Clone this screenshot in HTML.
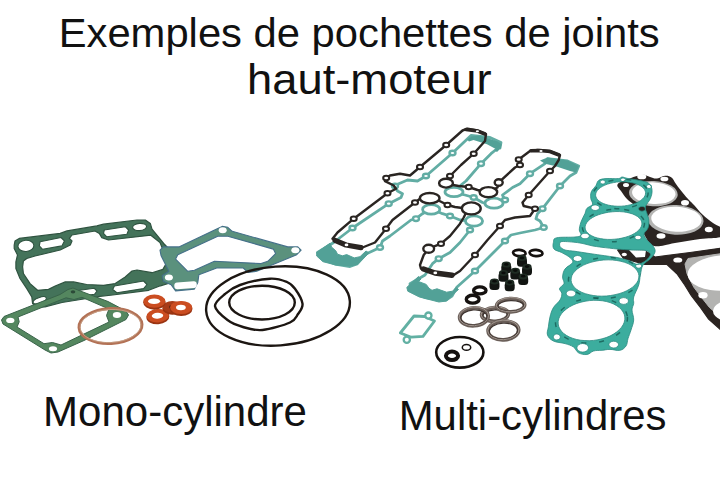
<!DOCTYPE html>
<html><head><meta charset="utf-8"><title>Exemples de pochettes de joints haut-moteur</title>
<style>
html,body{margin:0;padding:0;background:#fff;}
body{width:720px;height:490px;overflow:hidden;}
svg{display:block;font-family:"Liberation Sans",Arial,sans-serif;fill:#111;}
</style></head><body>
<svg width="720" height="490" viewBox="0 0 720 490">
<rect width="720" height="490" fill="#fff"/>
<text x="58.7" y="47.3" font-size="41.4" textLength="601" lengthAdjust="spacingAndGlyphs">Exemples de pochettes de joints</text>
<text x="247" y="93.6" font-size="42.4" textLength="244.5" lengthAdjust="spacingAndGlyphs">haut-moteur</text>
<text x="43" y="425.8" font-size="42.2" textLength="264" lengthAdjust="spacingAndGlyphs">Mono-cylindre</text>
<text x="398.7" y="429.6" font-size="42" textLength="267.7" lengthAdjust="spacingAndGlyphs">Multi-cylindres</text>
<path d="M14.2,245.0 L15.0,241.0 L19.2,238.4 L60.2,233.4 L67.0,230.9 L96.8,225.9 L103.5,224.2 L137.0,220.0 L145.3,220.0 L150.3,223.4 L152.0,229.2 L163.7,243.5 L168.0,248.0 L172.0,262.0 L174.0,276.0 L170.0,283.0 L160.4,285.8 L148.7,290.3 L112.7,295.0 L100.0,296.3 L83.7,299.0 L62.0,302.5 L45.0,306.8 L36.8,307.0 L32.6,303.6 L31.8,297.0 L26.8,288.6 L20.0,278.5 L15.9,268.5 L15.9,261.8 L17.5,255.0 L14.2,248.4Z M23.4,261.0 L26.8,258.5 L35.0,256.0 L60.2,250.0 L70.3,245.0 L72.0,240.9 L69.4,238.4 L72.0,235.0 L95.0,231.0 L99.3,233.4 L101.8,237.6 L108.5,240.0 L150.8,235.2 L160.0,242.5 L164.0,252.5 L166.2,263.5 L162.9,269.4 L152.0,272.7 L137.0,270.0 L132.0,271.0 L125.2,277.0 L115.2,283.6 L103.5,285.3 L86.7,284.5 L73.6,281.9 L65.3,281.9 L55.2,286.0 L48.5,289.4 L37.6,290.3 L30.1,283.6 L23.4,273.5 L22.6,266.8Z" fill="#44735a" fill-rule="evenodd" stroke="#2f5340" stroke-width="1.2" stroke-linejoin="round"/>
<path d="M40.1,241.7 L61.0,237.5 L64.4,240.9 L61.9,245.9 L42.6,249.3 L39.3,245.9Z" fill="#fff" stroke="#2f5340" stroke-width="1.1" stroke-linejoin="round"/>
<path d="M104.3,230.0 L125.2,226.7 L128.6,230.0 L126.9,234.2 L106.8,236.8 L103.5,233.4Z" fill="#fff" stroke="#2f5340" stroke-width="1.1" stroke-linejoin="round"/>
<path d="M114.4,286.0 L143.6,281.0 L147.0,284.5 L143.6,288.6 L116.9,292.8 L112.7,289.5Z" fill="#fff" stroke="#2f5340" stroke-width="1.1" stroke-linejoin="round"/>
<path d="M66.0,292.3 L94.0,288.2 L97.0,291.0 L94.5,294.3 L68.0,298.0 L64.5,295.0Z" fill="#fff" stroke="#2f5340" stroke-width="1.1" stroke-linejoin="round"/>
<ellipse cx="25.9" cy="245.9" rx="8" ry="5.6" fill="#fff" transform="rotate(-5 25.9 245.9)" stroke="#2f5340" stroke-width="1.1"/>
<ellipse cx="139.6" cy="227" rx="7" ry="3.6" fill="#fff" transform="rotate(-5 139.6 227)" stroke="#2f5340" stroke-width="1.1"/>
<ellipse cx="168.7" cy="278.6" rx="6.3" ry="3.7" fill="#fff" transform="rotate(-5 168.7 278.6)" stroke="#2f5340" stroke-width="1.1"/>
<ellipse cx="39.7" cy="300.3" rx="7" ry="2.8" fill="#fff" transform="rotate(-20 39.7 300.3)" stroke="#2f5340" stroke-width="1.1"/>
<path d="M1.5,320.0 L4.0,316.5 L60.0,294.5 L68.0,289.5 L73.0,288.0 L79.0,290.5 L108.0,301.5 L126.0,311.0 L128.5,315.0 L126.0,319.5 L84.0,340.5 L58.0,352.0 L51.0,353.0 L45.0,350.0 L3.0,324.0Z M18.0,317.0 L66.0,297.8 L74.0,299.5 L82.0,297.3 L109.0,309.0 L106.5,315.5 L109.0,322.0 L61.0,345.0 L52.5,342.5 L44.0,343.7 L17.0,327.0 L19.2,321.8Z" fill="#54875f" fill-rule="evenodd" stroke="#39634a" stroke-width="1" stroke-linejoin="round"/><ellipse cx="10.3" cy="320.4" rx="4.1" ry="2.7" fill="#fff"/><ellipse cx="53" cy="348.8" rx="4.1" ry="2.5" fill="#fff"/><ellipse cx="117" cy="315" rx="4.2" ry="3" fill="#fff"/><ellipse cx="73" cy="291.8" rx="2.3" ry="1.6" fill="#2c4a38"/>
<path d="M160.0,250.2 L163.3,246.9 L178.9,246.9 L216.7,229.1 L222.2,226.4 L227.8,227.3 L232.2,231.3 L287.8,246.9 L297.8,246.9 L301.1,250.2 L296.7,254.7 L256.7,271.3 L247.8,272.4 L243.3,268.0 L216.7,268.0 L198.9,274.7 L197.8,282.4 L194.4,289.1 L175.6,290.9 L171.1,284.7 L163.3,281.3 L162.2,275.8 L168.9,271.3 L161.1,255.8Z M175.6,259.1 L177.8,254.7 L217.8,236.2 L227.8,236.2 L273.3,249.1 L275.6,253.6 L267.8,261.3 L261.1,263.6 L214.4,261.3 L194.4,270.2 L187.8,271.3Z" fill="#5b917d" fill-rule="evenodd" stroke="#45708a" stroke-width="1.1" stroke-linejoin="round"/>
<rect x="174.3" y="281.8" width="22.5" height="6.800000000000011" rx="3" fill="#fff" transform="rotate(-4 185.55 285.20000000000005)" />
<ellipse cx="168.9" cy="277.6" rx="4" ry="3" fill="#fff"/><ellipse cx="222.7" cy="230.2" rx="4" ry="3" fill="#fff"/><ellipse cx="295.3" cy="250.3" rx="4" ry="3" fill="#fff"/>
<g fill="none" stroke="#1c1612" stroke-width="2.4">
<ellipse cx="278" cy="306" rx="72" ry="39.5" transform="rotate(-4 278 306)"/>
<path d="M215.0,306.2 C214.6,301.9 220.8,297.5 225.0,294.0 C229.2,290.5 232.5,287.6 240.0,285.0 C247.5,282.4 262.2,279.2 270.0,278.7 C277.8,278.2 282.8,280.3 287.0,282.0 C291.2,283.7 292.4,285.1 295.0,288.7 C297.6,292.3 302.0,299.5 302.5,303.7 C303.0,307.9 300.1,310.9 298.0,314.0 C295.9,317.1 295.9,319.8 290.0,322.5 C284.1,325.2 270.3,329.2 262.5,330.0 C254.7,330.8 248.8,328.7 243.0,327.0 C237.2,325.3 232.2,323.5 227.5,320.0 C222.8,316.5 215.4,310.5 215.0,306.2Z"/>
<ellipse cx="262" cy="302.6" rx="32.8" ry="16.9"/>
</g>
<ellipse cx="110.5" cy="326" rx="31.5" ry="17.5" fill="none" stroke="#b37256" stroke-width="3" transform="rotate(-3 110.5 326)"/>
<ellipse cx="110.5" cy="326" rx="30.5" ry="16.5" fill="none" stroke="#c9a58c" stroke-width="0.8" transform="rotate(-3 110.5 326)"/>
<g transform="rotate(-4 157.8 316)"><ellipse cx="157.8" cy="317.0" rx="11.5" ry="7.3" fill="#9a3412"/><ellipse cx="157.8" cy="315.7" rx="11.2" ry="6.7" fill="#cb4d21"/><ellipse cx="157.5" cy="315.7" rx="5.75" ry="2.92" fill="#fff"/></g>
<g transform="rotate(0 172.4 307.2)"><ellipse cx="172.4" cy="308.2" rx="10" ry="6.5" fill="#9a3412"/><ellipse cx="172.4" cy="306.9" rx="9.7" ry="5.9" fill="#a83c19"/><ellipse cx="172.1" cy="306.9" rx="3.0" ry="1.95" fill="#5a2412"/></g>
<g transform="rotate(0 181.2 307.8)"><ellipse cx="181.2" cy="308.8" rx="11.3" ry="7.2" fill="#9a3412"/><ellipse cx="181.2" cy="307.5" rx="11.0" ry="6.6000000000000005" fill="#cb4d21"/><ellipse cx="180.89999999999998" cy="307.5" rx="4.859" ry="2.736" fill="#fff"/></g>
<g transform="rotate(0 154.4 301.5)"><ellipse cx="154.4" cy="302.5" rx="11.2" ry="7.2" fill="#9a3412"/><ellipse cx="154.4" cy="301.2" rx="10.899999999999999" ry="6.6000000000000005" fill="#cb4d21"/><ellipse cx="154.1" cy="301.2" rx="6.048" ry="2.736" fill="#fff"/></g>
<path d="M617.5,184.5 C618.5,182.3 622.3,181.6 626.0,180.0 C629.7,178.4 632.5,177.3 636.0,176.3 C639.5,175.3 640.7,174.7 643.5,174.8 C646.3,174.9 647.3,176.3 650.0,177.0 C652.7,177.7 654.0,178.8 657.0,178.5 C660.0,178.2 662.1,175.9 665.0,175.7 C667.9,175.5 669.3,175.8 671.5,177.5 C673.7,179.2 673.8,181.0 676.0,184.0 C678.2,187.0 680.0,189.4 682.5,192.5 C685.0,195.6 686.2,197.0 688.5,199.5 C690.8,202.0 691.2,202.0 694.0,205.0 C696.8,208.0 698.7,210.9 702.5,214.5 C706.3,218.1 709.1,220.2 713.0,223.0 C716.9,225.8 720.2,225.8 722.0,228.5 C723.8,231.2 726.4,234.4 722.0,236.5 C717.6,238.6 709.4,237.7 700.0,239.0 C690.6,240.3 683.6,241.5 675.0,243.0 C666.4,244.5 662.0,246.3 657.0,246.3 C652.0,246.3 652.4,245.1 650.0,243.0 C647.6,240.9 646.6,239.0 645.0,236.0 C643.4,233.0 642.4,231.2 642.0,228.0 C641.6,224.8 643.4,223.2 643.0,220.0 C642.6,216.8 641.8,215.0 640.0,212.0 C638.2,209.0 636.6,207.6 634.0,205.0 C631.4,202.4 629.6,201.8 627.0,199.0 C624.4,196.2 622.9,193.9 621.0,191.0 C619.1,188.1 616.5,186.7 617.5,184.5Z" fill="#2b2421"/>
<ellipse cx="653.4" cy="193.6" rx="24.4" ry="12.6" fill="#b4b4b2" transform="rotate(3 653.4 193.6)" />
<ellipse cx="653.8" cy="193.2" rx="21.8" ry="10.8" fill="#fff" transform="rotate(3 653.8 193.2)" />
<ellipse cx="675.6" cy="219.9" rx="28" ry="14.8" fill="#b4b4b2" transform="rotate(3 675.6 219.9)" />
<ellipse cx="676.4" cy="219.2" rx="25.2" ry="12.5" fill="#fff" transform="rotate(3 676.4 219.2)" />
<ellipse cx="641.8" cy="176.7" rx="4.5" ry="2.6" fill="#fff" transform="rotate(0 641.8 176.7)" />
<ellipse cx="664.4" cy="179" rx="4" ry="2.3" fill="#fff" transform="rotate(0 664.4 179)" />
<ellipse cx="685" cy="202.7" rx="4" ry="2.8" fill="#fff" transform="rotate(0 685 202.7)" />
<ellipse cx="708.8" cy="229.5" rx="4" ry="2.8" fill="#fff" transform="rotate(0 708.8 229.5)" />
<ellipse cx="661" cy="236" rx="4.5" ry="2.8" fill="#fff" transform="rotate(0 661 236)" />
<ellipse cx="626" cy="185" rx="3" ry="2" fill="#fff" transform="rotate(0 626 185)" />
<path d="M617.6,250.0 L625.0,247.3 L640.0,247.5 L655.0,257.0 L690.0,252.5 L722.0,248.0 L722.0,331.0 L708.3,318.7 L700.4,307.4 L691.5,296.0 L684.7,285.0 L676.9,273.7 L667.0,264.5 L645.0,264.3 L623.4,258.5Z" fill="#2b2421" stroke="#2b2421" stroke-width="1.2" stroke-linejoin="round"/>
<path d="M688.0,258.5 L722.0,253.5 L722.0,318.5 L709.4,307.4 L700.4,296.0 L693.7,287.0 L687.0,273.7 L685.0,264.0Z" fill="#b3b3b1" stroke="#b3b3b1" stroke-width="1" stroke-linejoin="round"/>
<ellipse cx="723" cy="273" rx="35.5" ry="17.6" fill="#fff" transform="rotate(-3 723 273)" />
<ellipse cx="742" cy="311" rx="29" ry="13" fill="#fff" transform="rotate(0 742 311)" />
<path d="M629.0,250.0 L646.0,250.3 L645.0,257.0 L636.0,257.5Z" fill="#fff"/>
<ellipse cx="677.8" cy="260" rx="4.5" ry="2.6" fill="#fff" transform="rotate(0 677.8 260)" />
<ellipse cx="703" cy="295.3" rx="4.6" ry="3.3" fill="#fff" transform="rotate(0 703 295.3)" />
<ellipse cx="624.3" cy="254.5" rx="2.6" ry="1.8" fill="#fff" transform="rotate(0 624.3 254.5)" />
<path d="M591.3,191.8 C592.3,189.4 594.7,187.6 596.0,185.5 C597.3,183.4 596.8,181.8 598.6,180.5 C600.4,179.2 602.3,178.9 606.0,178.6 C609.7,178.3 615.7,178.9 618.6,178.6 C621.5,178.3 620.3,177.0 622.0,177.0 C623.7,177.0 624.7,177.9 628.0,178.5 C631.3,179.1 636.2,179.6 640.0,180.5 C643.8,181.4 646.6,181.7 648.8,183.4 C651.0,185.1 651.7,187.2 652.0,190.0 C652.3,192.8 651.6,195.4 650.4,198.5 C649.2,201.6 646.0,204.1 645.4,206.8 C644.8,209.6 646.4,211.1 647.0,213.5 C647.6,215.9 648.6,217.3 648.8,220.0 C649.0,222.7 648.9,225.4 648.0,228.0 C647.1,230.6 644.2,231.8 644.0,234.0 C643.8,236.2 645.4,237.8 647.0,240.0 C648.6,242.2 651.5,243.8 653.0,246.0 C654.5,248.2 655.5,249.6 655.0,252.0 C654.5,254.4 652.2,256.6 650.0,259.0 C647.8,261.4 644.8,262.1 643.0,265.0 C641.2,267.9 641.2,271.3 640.4,275.0 C639.6,278.7 639.9,281.0 638.7,285.0 C637.5,289.0 634.6,293.6 633.7,297.0 C632.8,300.4 634.0,301.0 633.7,303.4 C633.4,305.8 632.0,307.0 632.0,310.0 C632.0,313.0 633.9,316.3 633.7,320.0 C633.5,323.7 632.0,326.6 631.0,330.0 C630.0,333.4 628.9,335.7 628.0,338.6 C627.1,341.5 627.5,343.9 626.0,346.0 C624.5,348.1 622.9,349.7 620.0,350.3 C617.1,350.9 613.3,349.4 610.0,349.4 C606.7,349.4 605.0,350.0 602.0,350.3 C599.0,350.6 596.4,350.2 593.6,351.0 C590.8,351.8 589.7,354.2 586.9,354.5 C584.1,354.8 581.0,354.2 578.5,352.8 C576.0,351.4 576.0,348.7 573.5,347.0 C571.0,345.3 568.7,344.7 565.0,343.6 C561.3,342.5 556.6,342.6 553.4,341.0 C550.2,339.4 548.4,337.6 547.5,335.0 C546.6,332.4 547.9,330.1 548.4,326.8 C548.9,323.5 549.1,320.3 550.0,316.8 C550.9,313.3 551.6,310.7 553.4,307.6 C555.2,304.5 558.5,302.6 560.0,300.0 C561.5,297.4 561.9,295.5 561.8,293.4 C561.7,291.3 559.1,290.4 559.5,288.6 C559.9,286.8 563.4,285.6 564.0,283.5 C564.6,281.4 562.4,279.7 562.6,277.0 C562.8,274.3 563.2,271.6 565.0,269.0 C566.8,266.4 571.7,264.7 572.6,262.6 C573.5,260.5 572.0,259.4 570.0,257.6 C568.0,255.8 564.7,254.2 561.8,252.6 C558.9,251.0 555.5,250.9 554.0,249.0 C552.5,247.1 552.9,244.6 553.4,242.5 C553.9,240.4 552.7,238.8 556.7,237.8 C560.7,236.8 570.5,237.5 575.0,237.0 C579.5,236.5 580.2,236.3 581.0,235.0 C581.8,233.7 579.3,232.4 579.3,230.0 C579.3,227.6 580.0,225.0 581.0,222.0 C582.0,219.0 583.9,216.0 585.0,213.5 C586.1,211.0 585.4,210.2 586.8,208.5 C588.2,206.8 591.8,206.1 592.5,204.3 C593.2,202.5 591.0,200.8 590.8,198.5 C590.6,196.2 590.3,194.2 591.3,191.8Z M645.6,192.7 C645.6,193.7 645.4,194.8 644.9,195.9 C644.4,196.9 643.6,198.0 642.5,199.0 C641.5,199.9 640.2,200.9 638.7,201.7 C637.2,202.5 635.5,203.3 633.6,203.9 C631.8,204.5 629.7,205.0 627.7,205.4 C625.6,205.8 623.4,206.1 621.2,206.2 C619.1,206.3 616.8,206.3 614.8,206.1 C612.7,205.9 610.6,205.6 608.7,205.2 C606.8,204.8 605.0,204.2 603.4,203.5 C601.8,202.9 600.4,202.1 599.3,201.2 C598.2,200.4 597.3,199.4 596.7,198.4 C596.0,197.4 595.7,196.4 595.6,195.3 C595.6,194.3 595.8,193.2 596.3,192.1 C596.8,191.1 597.6,190.0 598.7,189.0 C599.7,188.1 601.0,187.1 602.5,186.3 C604.0,185.5 605.7,184.7 607.6,184.1 C609.4,183.5 611.5,183.0 613.5,182.6 C615.6,182.2 617.8,181.9 620.0,181.8 C622.1,181.7 624.4,181.7 626.4,181.9 C628.5,182.1 630.6,182.4 632.5,182.8 C634.4,183.2 636.2,183.8 637.8,184.5 C639.4,185.1 640.8,185.9 641.9,186.8 C643.0,187.6 643.9,188.6 644.5,189.6 C645.2,190.6 645.5,191.6 645.6,192.7Z M641.9,223.0 C642.0,224.2 641.8,225.5 641.2,226.7 C640.7,227.9 639.8,229.1 638.7,230.2 C637.6,231.4 636.1,232.5 634.4,233.5 C632.8,234.5 630.8,235.4 628.7,236.2 C626.7,236.9 624.3,237.6 622.0,238.1 C619.7,238.7 617.2,239.0 614.7,239.2 C612.3,239.5 609.7,239.5 607.3,239.4 C604.9,239.3 602.5,239.1 600.3,238.6 C598.2,238.2 596.1,237.7 594.3,237.0 C592.5,236.3 590.8,235.4 589.5,234.5 C588.2,233.6 587.1,232.5 586.4,231.5 C585.7,230.4 585.2,229.2 585.1,228.0 C585.0,226.8 585.2,225.5 585.8,224.3 C586.3,223.1 587.2,221.9 588.3,220.8 C589.4,219.6 590.9,218.5 592.6,217.5 C594.2,216.5 596.2,215.6 598.3,214.8 C600.3,214.1 602.7,213.4 605.0,212.9 C607.3,212.3 609.8,212.0 612.3,211.8 C614.7,211.5 617.3,211.5 619.7,211.6 C622.1,211.7 624.5,211.9 626.7,212.4 C628.8,212.8 630.9,213.3 632.7,214.0 C634.5,214.7 636.2,215.6 637.5,216.5 C638.8,217.4 639.9,218.5 640.6,219.5 C641.3,220.6 641.8,221.8 641.9,223.0Z M638.9,275.6 C639.0,277.2 638.7,278.8 638.1,280.4 C637.4,281.9 636.4,283.5 635.0,284.9 C633.6,286.4 631.9,287.8 629.9,289.0 C627.9,290.3 625.5,291.4 623.0,292.4 C620.6,293.3 617.8,294.1 615.0,294.7 C612.2,295.3 609.2,295.8 606.3,296.0 C603.3,296.2 600.3,296.2 597.4,296.0 C594.6,295.8 591.7,295.3 589.1,294.7 C586.5,294.1 584.1,293.3 581.9,292.4 C579.8,291.4 577.8,290.3 576.3,289.0 C574.7,287.8 573.4,286.4 572.6,284.9 C571.7,283.5 571.2,281.9 571.1,280.4 C571.0,278.8 571.3,277.2 571.9,275.6 C572.6,274.1 573.6,272.5 575.0,271.1 C576.4,269.6 578.1,268.2 580.1,267.0 C582.1,265.7 584.5,264.6 587.0,263.6 C589.4,262.7 592.2,261.9 595.0,261.3 C597.8,260.7 600.8,260.2 603.7,260.0 C606.7,259.8 609.7,259.8 612.6,260.0 C615.4,260.2 618.3,260.7 620.9,261.3 C623.5,261.9 625.9,262.7 628.1,263.6 C630.2,264.6 632.2,265.7 633.7,267.0 C635.3,268.2 636.6,269.6 637.4,271.1 C638.3,272.5 638.8,274.1 638.9,275.6Z M624.8,317.0 C625.0,318.7 624.8,320.5 624.2,322.3 C623.7,324.0 622.7,325.8 621.4,327.4 C620.1,329.0 618.4,330.7 616.5,332.1 C614.6,333.5 612.4,334.9 610.0,336.0 C607.6,337.1 604.9,338.1 602.1,338.8 C599.4,339.5 596.5,340.1 593.6,340.4 C590.7,340.7 587.7,340.8 584.9,340.6 C582.1,340.5 579.2,340.1 576.7,339.5 C574.1,338.9 571.6,338.0 569.4,337.0 C567.3,336.0 565.3,334.8 563.7,333.5 C562.1,332.1 560.8,330.6 559.9,329.0 C558.9,327.5 558.4,325.7 558.2,324.0 C558.0,322.3 558.2,320.5 558.8,318.7 C559.3,317.0 560.3,315.2 561.6,313.6 C562.9,312.0 564.6,310.3 566.5,308.9 C568.4,307.5 570.6,306.1 573.0,305.0 C575.4,303.9 578.1,302.9 580.9,302.2 C583.6,301.5 586.5,300.9 589.4,300.6 C592.3,300.3 595.3,300.2 598.1,300.4 C600.9,300.5 603.8,300.9 606.3,301.5 C608.9,302.1 611.4,303.0 613.6,304.0 C615.7,305.0 617.7,306.2 619.3,307.5 C620.9,308.9 622.2,310.4 623.1,312.0 C624.1,313.5 624.6,315.3 624.8,317.0Z M561.0,241.7 C563.0,241.1 571.9,242.0 575.0,242.3 C578.1,242.6 581.7,243.3 584.0,243.8 C586.3,244.3 589.6,245.3 592.0,245.8 C594.4,246.3 598.7,246.9 602.0,247.3 C605.3,247.7 613.0,248.6 617.0,249.0 C621.0,249.4 628.1,249.8 632.0,250.0 C635.9,250.2 643.5,249.9 646.0,250.5 C648.5,251.1 650.5,253.2 650.5,254.5 C650.5,255.8 647.7,259.2 646.0,260.5 C644.3,261.8 639.6,264.4 637.5,264.5 C635.4,264.6 632.6,261.9 630.0,261.0 C627.4,260.1 621.9,258.5 618.0,257.7 C614.1,256.9 605.0,255.8 601.0,255.2 C597.0,254.6 591.5,253.8 588.0,253.3 C584.5,252.8 578.1,251.7 575.0,251.3 C571.9,250.9 567.0,250.6 565.0,250.0 C563.0,249.4 560.5,247.6 560.0,246.5 C559.5,245.4 559.0,242.3 561.0,241.7Z M605.3,182.0 C605.3,182.5 605.0,183.1 604.5,183.4 C604.1,183.7 603.3,184.0 602.7,184.0 C602.1,184.0 601.3,183.7 600.9,183.4 C600.4,183.1 600.1,182.5 600.1,182.0 C600.1,181.5 600.4,180.9 600.9,180.6 C601.3,180.3 602.1,180.0 602.7,180.0 C603.3,180.0 604.1,180.3 604.5,180.6 C605.0,180.9 605.3,181.5 605.3,182.0Z M625.4,179.8 C625.4,180.2 625.1,180.8 624.7,181.1 C624.3,181.4 623.6,181.6 623.0,181.6 C622.4,181.6 621.7,181.4 621.3,181.1 C620.9,180.8 620.6,180.2 620.6,179.8 C620.6,179.4 620.9,178.8 621.3,178.5 C621.7,178.2 622.4,178.0 623.0,178.0 C623.6,178.0 624.3,178.2 624.7,178.5 C625.1,178.8 625.4,179.4 625.4,179.8Z M651.5,186.5 C651.5,187.0 651.2,187.6 650.8,187.9 C650.4,188.2 649.6,188.5 649.0,188.5 C648.4,188.5 647.6,188.2 647.2,187.9 C646.8,187.6 646.5,187.0 646.5,186.5 C646.5,186.0 646.8,185.4 647.2,185.1 C647.6,184.8 648.4,184.5 649.0,184.5 C649.6,184.5 650.4,184.8 650.8,185.1 C651.2,185.4 651.5,186.0 651.5,186.5Z M599.4,207.7 C599.4,208.4 598.9,209.2 598.2,209.7 C597.5,210.1 596.2,210.5 595.2,210.5 C594.2,210.5 592.9,210.1 592.2,209.7 C591.5,209.2 591.0,208.4 591.0,207.7 C591.0,207.0 591.5,206.2 592.2,205.7 C592.9,205.3 594.2,204.9 595.2,204.9 C596.2,204.9 597.5,205.3 598.2,205.7 C598.9,206.2 599.4,207.0 599.4,207.7Z M645.4,208.8 C645.4,209.4 645.0,210.1 644.4,210.5 C643.8,210.9 642.8,211.2 642.0,211.2 C641.2,211.2 640.2,210.9 639.6,210.5 C639.0,210.1 638.6,209.4 638.6,208.8 C638.6,208.2 639.0,207.5 639.6,207.1 C640.2,206.7 641.2,206.4 642.0,206.4 C642.8,206.4 643.8,206.7 644.4,207.1 C645.0,207.5 645.4,208.2 645.4,208.8Z M589.4,236.0 C589.4,236.7 588.8,237.5 588.1,238.0 C587.4,238.4 586.0,238.8 585.0,238.8 C584.0,238.8 582.6,238.4 581.9,238.0 C581.2,237.5 580.6,236.7 580.6,236.0 C580.6,235.3 581.2,234.5 581.9,234.0 C582.6,233.6 584.0,233.2 585.0,233.2 C586.0,233.2 587.4,233.6 588.1,234.0 C588.8,234.5 589.4,235.3 589.4,236.0Z M641.2,237.5 C641.2,238.0 640.8,238.7 640.3,239.1 C639.7,239.5 638.8,239.8 638.0,239.8 C637.2,239.8 636.3,239.5 635.7,239.1 C635.2,238.7 634.8,238.0 634.8,237.5 C634.8,237.0 635.2,236.3 635.7,235.9 C636.3,235.5 637.2,235.2 638.0,235.2 C638.8,235.2 639.7,235.5 640.3,235.9 C640.8,236.3 641.2,237.0 641.2,237.5Z M582.0,258.5 C582.0,259.2 581.4,260.1 580.7,260.6 C580.0,261.1 578.6,261.5 577.6,261.5 C576.6,261.5 575.2,261.1 574.5,260.6 C573.8,260.1 573.2,259.2 573.2,258.5 C573.2,257.8 573.8,256.9 574.5,256.4 C575.2,255.9 576.6,255.5 577.6,255.5 C578.6,255.5 580.0,255.9 580.7,256.4 C581.4,256.9 582.0,257.8 582.0,258.5Z M641.7,266.0 C641.7,266.5 641.3,267.2 640.8,267.6 C640.3,267.9 639.4,268.2 638.7,268.2 C638.0,268.2 637.1,267.9 636.6,267.6 C636.1,267.2 635.7,266.5 635.7,266.0 C635.7,265.5 636.1,264.8 636.6,264.4 C637.1,264.1 638.0,263.8 638.7,263.8 C639.4,263.8 640.3,264.1 640.8,264.4 C641.3,264.8 641.7,265.5 641.7,266.0Z M575.8,293.5 C575.8,294.3 575.2,295.3 574.4,295.9 C573.6,296.5 572.1,296.9 571.0,296.9 C569.9,296.9 568.4,296.5 567.6,295.9 C566.8,295.3 566.2,294.3 566.2,293.5 C566.2,292.7 566.8,291.7 567.6,291.1 C568.4,290.5 569.9,290.1 571.0,290.1 C572.1,290.1 573.6,290.5 574.4,291.1 C575.2,291.7 575.8,292.7 575.8,293.5Z M628.5,301.0 C628.5,301.8 627.9,302.8 627.1,303.4 C626.3,304.0 624.8,304.4 623.7,304.4 C622.6,304.4 621.1,304.0 620.3,303.4 C619.5,302.8 618.9,301.8 618.9,301.0 C618.9,300.2 619.5,299.2 620.3,298.6 C621.1,298.0 622.6,297.6 623.7,297.6 C624.8,297.6 626.3,298.0 627.1,298.6 C627.9,299.2 628.5,300.2 628.5,301.0Z M560.4,337.0 C560.4,337.7 559.9,338.6 559.3,339.1 C558.7,339.6 557.6,340.0 556.8,340.0 C556.0,340.0 554.9,339.6 554.3,339.1 C553.7,338.6 553.2,337.7 553.2,337.0 C553.2,336.3 553.7,335.4 554.3,334.9 C554.9,334.4 556.0,334.0 556.8,334.0 C557.6,334.0 558.7,334.4 559.3,334.9 C559.9,335.4 560.4,336.3 560.4,337.0Z M588.5,347.8 C588.5,348.8 587.8,350.1 586.8,350.8 C585.8,351.6 584.1,352.1 582.7,352.1 C581.3,352.1 579.6,351.6 578.6,350.8 C577.6,350.1 576.9,348.8 576.9,347.8 C576.9,346.8 577.6,345.5 578.6,344.8 C579.6,344.0 581.3,343.5 582.7,343.5 C584.1,343.5 585.8,344.0 586.8,344.8 C587.8,345.5 588.5,346.8 588.5,347.8Z M618.5,344.6 C618.5,345.4 617.9,346.4 617.1,347.0 C616.3,347.6 614.8,348.0 613.7,348.0 C612.6,348.0 611.1,347.6 610.3,347.0 C609.5,346.4 608.9,345.4 608.9,344.6 C608.9,343.8 609.5,342.8 610.3,342.2 C611.1,341.6 612.6,341.2 613.7,341.2 C614.8,341.2 616.3,341.6 617.1,342.2 C617.9,342.8 618.5,343.8 618.5,344.6Z" fill="#3cad9e" fill-rule="evenodd" stroke="#2a8a80" stroke-width="0.8"/>
<clipPath id="eclip"><path d="M591.3,191.8 C592.3,189.4 594.7,187.6 596.0,185.5 C597.3,183.4 596.8,181.8 598.6,180.5 C600.4,179.2 602.3,178.9 606.0,178.6 C609.7,178.3 615.7,178.9 618.6,178.6 C621.5,178.3 620.3,177.0 622.0,177.0 C623.7,177.0 624.7,177.9 628.0,178.5 C631.3,179.1 636.2,179.6 640.0,180.5 C643.8,181.4 646.6,181.7 648.8,183.4 C651.0,185.1 651.7,187.2 652.0,190.0 C652.3,192.8 651.6,195.4 650.4,198.5 C649.2,201.6 646.0,204.1 645.4,206.8 C644.8,209.6 646.4,211.1 647.0,213.5 C647.6,215.9 648.6,217.3 648.8,220.0 C649.0,222.7 648.9,225.4 648.0,228.0 C647.1,230.6 644.2,231.8 644.0,234.0 C643.8,236.2 645.4,237.8 647.0,240.0 C648.6,242.2 651.5,243.8 653.0,246.0 C654.5,248.2 655.5,249.6 655.0,252.0 C654.5,254.4 652.2,256.6 650.0,259.0 C647.8,261.4 644.8,262.1 643.0,265.0 C641.2,267.9 641.2,271.3 640.4,275.0 C639.6,278.7 639.9,281.0 638.7,285.0 C637.5,289.0 634.6,293.6 633.7,297.0 C632.8,300.4 634.0,301.0 633.7,303.4 C633.4,305.8 632.0,307.0 632.0,310.0 C632.0,313.0 633.9,316.3 633.7,320.0 C633.5,323.7 632.0,326.6 631.0,330.0 C630.0,333.4 628.9,335.7 628.0,338.6 C627.1,341.5 627.5,343.9 626.0,346.0 C624.5,348.1 622.9,349.7 620.0,350.3 C617.1,350.9 613.3,349.4 610.0,349.4 C606.7,349.4 605.0,350.0 602.0,350.3 C599.0,350.6 596.4,350.2 593.6,351.0 C590.8,351.8 589.7,354.2 586.9,354.5 C584.1,354.8 581.0,354.2 578.5,352.8 C576.0,351.4 576.0,348.7 573.5,347.0 C571.0,345.3 568.7,344.7 565.0,343.6 C561.3,342.5 556.6,342.6 553.4,341.0 C550.2,339.4 548.4,337.6 547.5,335.0 C546.6,332.4 547.9,330.1 548.4,326.8 C548.9,323.5 549.1,320.3 550.0,316.8 C550.9,313.3 551.6,310.7 553.4,307.6 C555.2,304.5 558.5,302.6 560.0,300.0 C561.5,297.4 561.9,295.5 561.8,293.4 C561.7,291.3 559.1,290.4 559.5,288.6 C559.9,286.8 563.4,285.6 564.0,283.5 C564.6,281.4 562.4,279.7 562.6,277.0 C562.8,274.3 563.2,271.6 565.0,269.0 C566.8,266.4 571.7,264.7 572.6,262.6 C573.5,260.5 572.0,259.4 570.0,257.6 C568.0,255.8 564.7,254.2 561.8,252.6 C558.9,251.0 555.5,250.9 554.0,249.0 C552.5,247.1 552.9,244.6 553.4,242.5 C553.9,240.4 552.7,238.8 556.7,237.8 C560.7,236.8 570.5,237.5 575.0,237.0 C579.5,236.5 580.2,236.3 581.0,235.0 C581.8,233.7 579.3,232.4 579.3,230.0 C579.3,227.6 580.0,225.0 581.0,222.0 C582.0,219.0 583.9,216.0 585.0,213.5 C586.1,211.0 585.4,210.2 586.8,208.5 C588.2,206.8 591.8,206.1 592.5,204.3 C593.2,202.5 591.0,200.8 590.8,198.5 C590.6,196.2 590.3,194.2 591.3,191.8Z M645.6,192.7 C645.6,193.7 645.4,194.8 644.9,195.9 C644.4,196.9 643.6,198.0 642.5,199.0 C641.5,199.9 640.2,200.9 638.7,201.7 C637.2,202.5 635.5,203.3 633.6,203.9 C631.8,204.5 629.7,205.0 627.7,205.4 C625.6,205.8 623.4,206.1 621.2,206.2 C619.1,206.3 616.8,206.3 614.8,206.1 C612.7,205.9 610.6,205.6 608.7,205.2 C606.8,204.8 605.0,204.2 603.4,203.5 C601.8,202.9 600.4,202.1 599.3,201.2 C598.2,200.4 597.3,199.4 596.7,198.4 C596.0,197.4 595.7,196.4 595.6,195.3 C595.6,194.3 595.8,193.2 596.3,192.1 C596.8,191.1 597.6,190.0 598.7,189.0 C599.7,188.1 601.0,187.1 602.5,186.3 C604.0,185.5 605.7,184.7 607.6,184.1 C609.4,183.5 611.5,183.0 613.5,182.6 C615.6,182.2 617.8,181.9 620.0,181.8 C622.1,181.7 624.4,181.7 626.4,181.9 C628.5,182.1 630.6,182.4 632.5,182.8 C634.4,183.2 636.2,183.8 637.8,184.5 C639.4,185.1 640.8,185.9 641.9,186.8 C643.0,187.6 643.9,188.6 644.5,189.6 C645.2,190.6 645.5,191.6 645.6,192.7Z M641.9,223.0 C642.0,224.2 641.8,225.5 641.2,226.7 C640.7,227.9 639.8,229.1 638.7,230.2 C637.6,231.4 636.1,232.5 634.4,233.5 C632.8,234.5 630.8,235.4 628.7,236.2 C626.7,236.9 624.3,237.6 622.0,238.1 C619.7,238.7 617.2,239.0 614.7,239.2 C612.3,239.5 609.7,239.5 607.3,239.4 C604.9,239.3 602.5,239.1 600.3,238.6 C598.2,238.2 596.1,237.7 594.3,237.0 C592.5,236.3 590.8,235.4 589.5,234.5 C588.2,233.6 587.1,232.5 586.4,231.5 C585.7,230.4 585.2,229.2 585.1,228.0 C585.0,226.8 585.2,225.5 585.8,224.3 C586.3,223.1 587.2,221.9 588.3,220.8 C589.4,219.6 590.9,218.5 592.6,217.5 C594.2,216.5 596.2,215.6 598.3,214.8 C600.3,214.1 602.7,213.4 605.0,212.9 C607.3,212.3 609.8,212.0 612.3,211.8 C614.7,211.5 617.3,211.5 619.7,211.6 C622.1,211.7 624.5,211.9 626.7,212.4 C628.8,212.8 630.9,213.3 632.7,214.0 C634.5,214.7 636.2,215.6 637.5,216.5 C638.8,217.4 639.9,218.5 640.6,219.5 C641.3,220.6 641.8,221.8 641.9,223.0Z M638.9,275.6 C639.0,277.2 638.7,278.8 638.1,280.4 C637.4,281.9 636.4,283.5 635.0,284.9 C633.6,286.4 631.9,287.8 629.9,289.0 C627.9,290.3 625.5,291.4 623.0,292.4 C620.6,293.3 617.8,294.1 615.0,294.7 C612.2,295.3 609.2,295.8 606.3,296.0 C603.3,296.2 600.3,296.2 597.4,296.0 C594.6,295.8 591.7,295.3 589.1,294.7 C586.5,294.1 584.1,293.3 581.9,292.4 C579.8,291.4 577.8,290.3 576.3,289.0 C574.7,287.8 573.4,286.4 572.6,284.9 C571.7,283.5 571.2,281.9 571.1,280.4 C571.0,278.8 571.3,277.2 571.9,275.6 C572.6,274.1 573.6,272.5 575.0,271.1 C576.4,269.6 578.1,268.2 580.1,267.0 C582.1,265.7 584.5,264.6 587.0,263.6 C589.4,262.7 592.2,261.9 595.0,261.3 C597.8,260.7 600.8,260.2 603.7,260.0 C606.7,259.8 609.7,259.8 612.6,260.0 C615.4,260.2 618.3,260.7 620.9,261.3 C623.5,261.9 625.9,262.7 628.1,263.6 C630.2,264.6 632.2,265.7 633.7,267.0 C635.3,268.2 636.6,269.6 637.4,271.1 C638.3,272.5 638.8,274.1 638.9,275.6Z M624.8,317.0 C625.0,318.7 624.8,320.5 624.2,322.3 C623.7,324.0 622.7,325.8 621.4,327.4 C620.1,329.0 618.4,330.7 616.5,332.1 C614.6,333.5 612.4,334.9 610.0,336.0 C607.6,337.1 604.9,338.1 602.1,338.8 C599.4,339.5 596.5,340.1 593.6,340.4 C590.7,340.7 587.7,340.8 584.9,340.6 C582.1,340.5 579.2,340.1 576.7,339.5 C574.1,338.9 571.6,338.0 569.4,337.0 C567.3,336.0 565.3,334.8 563.7,333.5 C562.1,332.1 560.8,330.6 559.9,329.0 C558.9,327.5 558.4,325.7 558.2,324.0 C558.0,322.3 558.2,320.5 558.8,318.7 C559.3,317.0 560.3,315.2 561.6,313.6 C562.9,312.0 564.6,310.3 566.5,308.9 C568.4,307.5 570.6,306.1 573.0,305.0 C575.4,303.9 578.1,302.9 580.9,302.2 C583.6,301.5 586.5,300.9 589.4,300.6 C592.3,300.3 595.3,300.2 598.1,300.4 C600.9,300.5 603.8,300.9 606.3,301.5 C608.9,302.1 611.4,303.0 613.6,304.0 C615.7,305.0 617.7,306.2 619.3,307.5 C620.9,308.9 622.2,310.4 623.1,312.0 C624.1,313.5 624.6,315.3 624.8,317.0Z M561.0,241.7 C563.0,241.1 571.9,242.0 575.0,242.3 C578.1,242.6 581.7,243.3 584.0,243.8 C586.3,244.3 589.6,245.3 592.0,245.8 C594.4,246.3 598.7,246.9 602.0,247.3 C605.3,247.7 613.0,248.6 617.0,249.0 C621.0,249.4 628.1,249.8 632.0,250.0 C635.9,250.2 643.5,249.9 646.0,250.5 C648.5,251.1 650.5,253.2 650.5,254.5 C650.5,255.8 647.7,259.2 646.0,260.5 C644.3,261.8 639.6,264.4 637.5,264.5 C635.4,264.6 632.6,261.9 630.0,261.0 C627.4,260.1 621.9,258.5 618.0,257.7 C614.1,256.9 605.0,255.8 601.0,255.2 C597.0,254.6 591.5,253.8 588.0,253.3 C584.5,252.8 578.1,251.7 575.0,251.3 C571.9,250.9 567.0,250.6 565.0,250.0 C563.0,249.4 560.5,247.6 560.0,246.5 C559.5,245.4 559.0,242.3 561.0,241.7Z M605.3,182.0 C605.3,182.5 605.0,183.1 604.5,183.4 C604.1,183.7 603.3,184.0 602.7,184.0 C602.1,184.0 601.3,183.7 600.9,183.4 C600.4,183.1 600.1,182.5 600.1,182.0 C600.1,181.5 600.4,180.9 600.9,180.6 C601.3,180.3 602.1,180.0 602.7,180.0 C603.3,180.0 604.1,180.3 604.5,180.6 C605.0,180.9 605.3,181.5 605.3,182.0Z M625.4,179.8 C625.4,180.2 625.1,180.8 624.7,181.1 C624.3,181.4 623.6,181.6 623.0,181.6 C622.4,181.6 621.7,181.4 621.3,181.1 C620.9,180.8 620.6,180.2 620.6,179.8 C620.6,179.4 620.9,178.8 621.3,178.5 C621.7,178.2 622.4,178.0 623.0,178.0 C623.6,178.0 624.3,178.2 624.7,178.5 C625.1,178.8 625.4,179.4 625.4,179.8Z M651.5,186.5 C651.5,187.0 651.2,187.6 650.8,187.9 C650.4,188.2 649.6,188.5 649.0,188.5 C648.4,188.5 647.6,188.2 647.2,187.9 C646.8,187.6 646.5,187.0 646.5,186.5 C646.5,186.0 646.8,185.4 647.2,185.1 C647.6,184.8 648.4,184.5 649.0,184.5 C649.6,184.5 650.4,184.8 650.8,185.1 C651.2,185.4 651.5,186.0 651.5,186.5Z M599.4,207.7 C599.4,208.4 598.9,209.2 598.2,209.7 C597.5,210.1 596.2,210.5 595.2,210.5 C594.2,210.5 592.9,210.1 592.2,209.7 C591.5,209.2 591.0,208.4 591.0,207.7 C591.0,207.0 591.5,206.2 592.2,205.7 C592.9,205.3 594.2,204.9 595.2,204.9 C596.2,204.9 597.5,205.3 598.2,205.7 C598.9,206.2 599.4,207.0 599.4,207.7Z M645.4,208.8 C645.4,209.4 645.0,210.1 644.4,210.5 C643.8,210.9 642.8,211.2 642.0,211.2 C641.2,211.2 640.2,210.9 639.6,210.5 C639.0,210.1 638.6,209.4 638.6,208.8 C638.6,208.2 639.0,207.5 639.6,207.1 C640.2,206.7 641.2,206.4 642.0,206.4 C642.8,206.4 643.8,206.7 644.4,207.1 C645.0,207.5 645.4,208.2 645.4,208.8Z M589.4,236.0 C589.4,236.7 588.8,237.5 588.1,238.0 C587.4,238.4 586.0,238.8 585.0,238.8 C584.0,238.8 582.6,238.4 581.9,238.0 C581.2,237.5 580.6,236.7 580.6,236.0 C580.6,235.3 581.2,234.5 581.9,234.0 C582.6,233.6 584.0,233.2 585.0,233.2 C586.0,233.2 587.4,233.6 588.1,234.0 C588.8,234.5 589.4,235.3 589.4,236.0Z M641.2,237.5 C641.2,238.0 640.8,238.7 640.3,239.1 C639.7,239.5 638.8,239.8 638.0,239.8 C637.2,239.8 636.3,239.5 635.7,239.1 C635.2,238.7 634.8,238.0 634.8,237.5 C634.8,237.0 635.2,236.3 635.7,235.9 C636.3,235.5 637.2,235.2 638.0,235.2 C638.8,235.2 639.7,235.5 640.3,235.9 C640.8,236.3 641.2,237.0 641.2,237.5Z M582.0,258.5 C582.0,259.2 581.4,260.1 580.7,260.6 C580.0,261.1 578.6,261.5 577.6,261.5 C576.6,261.5 575.2,261.1 574.5,260.6 C573.8,260.1 573.2,259.2 573.2,258.5 C573.2,257.8 573.8,256.9 574.5,256.4 C575.2,255.9 576.6,255.5 577.6,255.5 C578.6,255.5 580.0,255.9 580.7,256.4 C581.4,256.9 582.0,257.8 582.0,258.5Z M641.7,266.0 C641.7,266.5 641.3,267.2 640.8,267.6 C640.3,267.9 639.4,268.2 638.7,268.2 C638.0,268.2 637.1,267.9 636.6,267.6 C636.1,267.2 635.7,266.5 635.7,266.0 C635.7,265.5 636.1,264.8 636.6,264.4 C637.1,264.1 638.0,263.8 638.7,263.8 C639.4,263.8 640.3,264.1 640.8,264.4 C641.3,264.8 641.7,265.5 641.7,266.0Z M575.8,293.5 C575.8,294.3 575.2,295.3 574.4,295.9 C573.6,296.5 572.1,296.9 571.0,296.9 C569.9,296.9 568.4,296.5 567.6,295.9 C566.8,295.3 566.2,294.3 566.2,293.5 C566.2,292.7 566.8,291.7 567.6,291.1 C568.4,290.5 569.9,290.1 571.0,290.1 C572.1,290.1 573.6,290.5 574.4,291.1 C575.2,291.7 575.8,292.7 575.8,293.5Z M628.5,301.0 C628.5,301.8 627.9,302.8 627.1,303.4 C626.3,304.0 624.8,304.4 623.7,304.4 C622.6,304.4 621.1,304.0 620.3,303.4 C619.5,302.8 618.9,301.8 618.9,301.0 C618.9,300.2 619.5,299.2 620.3,298.6 C621.1,298.0 622.6,297.6 623.7,297.6 C624.8,297.6 626.3,298.0 627.1,298.6 C627.9,299.2 628.5,300.2 628.5,301.0Z M560.4,337.0 C560.4,337.7 559.9,338.6 559.3,339.1 C558.7,339.6 557.6,340.0 556.8,340.0 C556.0,340.0 554.9,339.6 554.3,339.1 C553.7,338.6 553.2,337.7 553.2,337.0 C553.2,336.3 553.7,335.4 554.3,334.9 C554.9,334.4 556.0,334.0 556.8,334.0 C557.6,334.0 558.7,334.4 559.3,334.9 C559.9,335.4 560.4,336.3 560.4,337.0Z M588.5,347.8 C588.5,348.8 587.8,350.1 586.8,350.8 C585.8,351.6 584.1,352.1 582.7,352.1 C581.3,352.1 579.6,351.6 578.6,350.8 C577.6,350.1 576.9,348.8 576.9,347.8 C576.9,346.8 577.6,345.5 578.6,344.8 C579.6,344.0 581.3,343.5 582.7,343.5 C584.1,343.5 585.8,344.0 586.8,344.8 C587.8,345.5 588.5,346.8 588.5,347.8Z M618.5,344.6 C618.5,345.4 617.9,346.4 617.1,347.0 C616.3,347.6 614.8,348.0 613.7,348.0 C612.6,348.0 611.1,347.6 610.3,347.0 C609.5,346.4 608.9,345.4 608.9,344.6 C608.9,343.8 609.5,342.8 610.3,342.2 C611.1,341.6 612.6,341.2 613.7,341.2 C614.8,341.2 616.3,341.6 617.1,342.2 C617.9,342.8 618.5,343.8 618.5,344.6Z" clip-rule="evenodd"/></clipPath><g clip-path="url(#eclip)">
<ellipse cx="620.6" cy="194" rx="27.6" ry="14.6" fill="none" stroke="#14574f" stroke-width="1.5" stroke-dasharray="5 13" opacity="0.75" transform="rotate(-3 620.6 194)"/>
<ellipse cx="613.5" cy="225.5" rx="31.1" ry="16.2" fill="none" stroke="#14574f" stroke-width="1.5" stroke-dasharray="5 13" opacity="0.75" transform="rotate(-5 613.5 225.5)"/>
<ellipse cx="605" cy="278" rx="36.6" ry="20.4" fill="none" stroke="#14574f" stroke-width="1.5" stroke-dasharray="5 13" opacity="0.75" transform="rotate(-4 605 278)"/>
<ellipse cx="591.5" cy="320.5" rx="36.1" ry="22.4" fill="none" stroke="#14574f" stroke-width="1.5" stroke-dasharray="5 13" opacity="0.75" transform="rotate(-6 591.5 320.5)"/>
</g>
<path d="M500.0,148.0 L501.0,142.5 L490.0,137.5 L471.0,135.5 L452.5,153.0 L426.0,176.0 L417.5,181.0 L407.5,180.0 L398.7,183.7 L395.0,186.0 L397.5,191.0 L402.5,193.7 L401.0,197.5 L388.7,203.7 L352.5,228.0 L333.7,242.5 L317.5,252.5 L322.0,259.0 L335.0,264.0 L350.0,266.5 L357.0,264.0 L366.0,254.0 L380.0,247.5 L382.5,241.0 L390.0,236.0 L411.0,220.0 L416.0,218.7 L422.5,213.7 L431.0,208.7 L442.5,213.7 L450.0,216.0 L460.0,220.0 L472.5,221.0 L470.0,230.0 L460.0,242.5 L450.0,252.5 L438.7,258.7 L432.5,263.7 L425.0,275.0 L410.0,283.7 L411.0,290.0 L425.0,297.5 L446.0,300.0 L452.0,296.0 L457.0,287.0 L475.0,271.0 L490.0,256.0 L505.0,241.0 L511.0,235.0 L520.0,233.0 L535.0,230.0 L543.7,227.5 L540.0,221.0 L536.0,218.7 L537.5,213.7 L542.5,208.7 L560.0,186.0 L570.0,176.0 L576.0,172.5 L578.7,166.0 L567.5,161.0 L547.5,158.7 L545.0,163.7 L530.0,173.7 L520.0,183.7 L512.5,187.5 L502.5,195.0 L505.0,200.0 L497.5,203.7 L491.0,205.0 L482.5,202.5 L473.7,197.5 L465.0,195.0 L453.7,192.5 L461.0,185.0 L466.0,181.0 L481.0,163.7 L491.0,153.7 L498.7,147.5Z" fill="none" stroke="#62ada4" stroke-width="2.8" stroke-linejoin="round"/><ellipse cx="452.5" cy="153" rx="3" ry="2.3" fill="#fff" stroke="#62ada4" stroke-width="2.38"/><ellipse cx="426" cy="176" rx="3" ry="2.3" fill="#fff" stroke="#62ada4" stroke-width="2.38"/><ellipse cx="395" cy="186" rx="3" ry="2.3" fill="#fff" stroke="#62ada4" stroke-width="2.38"/><ellipse cx="388.7" cy="203.7" rx="3" ry="2.3" fill="#fff" stroke="#62ada4" stroke-width="2.38"/><ellipse cx="352.5" cy="228" rx="3" ry="2.3" fill="#fff" stroke="#62ada4" stroke-width="2.38"/><ellipse cx="380" cy="247.5" rx="3" ry="2.3" fill="#fff" stroke="#62ada4" stroke-width="2.38"/><ellipse cx="416" cy="218.7" rx="3" ry="2.3" fill="#fff" stroke="#62ada4" stroke-width="2.38"/><ellipse cx="450" cy="216" rx="3" ry="2.3" fill="#fff" stroke="#62ada4" stroke-width="2.38"/><ellipse cx="470" cy="230" rx="3" ry="2.3" fill="#fff" stroke="#62ada4" stroke-width="2.38"/><ellipse cx="438.7" cy="258.7" rx="3" ry="2.3" fill="#fff" stroke="#62ada4" stroke-width="2.38"/><ellipse cx="475" cy="271" rx="3" ry="2.3" fill="#fff" stroke="#62ada4" stroke-width="2.38"/><ellipse cx="505" cy="241" rx="3" ry="2.3" fill="#fff" stroke="#62ada4" stroke-width="2.38"/><ellipse cx="543.7" cy="227.5" rx="3" ry="2.3" fill="#fff" stroke="#62ada4" stroke-width="2.38"/><ellipse cx="542.5" cy="208.7" rx="3" ry="2.3" fill="#fff" stroke="#62ada4" stroke-width="2.38"/><ellipse cx="560" cy="186" rx="3" ry="2.3" fill="#fff" stroke="#62ada4" stroke-width="2.38"/><ellipse cx="530" cy="173.7" rx="3" ry="2.3" fill="#fff" stroke="#62ada4" stroke-width="2.38"/><ellipse cx="505" cy="200" rx="3" ry="2.3" fill="#fff" stroke="#62ada4" stroke-width="2.38"/><ellipse cx="473.7" cy="197.5" rx="3" ry="2.3" fill="#fff" stroke="#62ada4" stroke-width="2.38"/><ellipse cx="481" cy="163.7" rx="3" ry="2.3" fill="#fff" stroke="#62ada4" stroke-width="2.38"/><ellipse cx="431.2" cy="209.4" rx="8.6" ry="4.8" fill="#fff" stroke="#62ada4" stroke-width="2.8"/><ellipse cx="474" cy="221" rx="8.6" ry="5.2" fill="#fff" stroke="#62ada4" stroke-width="2.8"/><ellipse cx="494" cy="203.2" rx="9" ry="5" fill="#fff" stroke="#62ada4" stroke-width="2.8"/><ellipse cx="454" cy="192" rx="9" ry="4.6" fill="#fff" stroke="#62ada4" stroke-width="2.8"/><path d="M316.7,252.5 L330.0,243.3 L331.5,247.0 L335.8,250.8 L337.5,254.2 L342.5,255.8 L346.7,254.6 L354.2,257.9 L360.0,256.7 L366.0,251.0 L369.0,253.0 L357.0,264.5 L350.0,266.0 L335.8,265.0 L323.0,261.7 L316.7,256.0Z" fill="#52a197" stroke="#52a197" stroke-width="1" stroke-linejoin="round"/><path d="M406.8,287.4 L418.5,276.5 L421.0,279.0 L418.5,281.5 L426.2,284.4 L429.0,288.3 L432.0,290.3 L437.0,288.8 L446.6,292.2 L452.5,291.2 L456.0,287.5 L458.5,289.5 L454.4,293.0 L446.6,301.0 L438.9,302.0 L419.4,297.0 L407.8,291.2Z" fill="#52a197" stroke="#52a197" stroke-width="1" stroke-linejoin="round"/><path d="M471.5,136.5 L479.3,135.5 L487.0,138.0 L497.8,141.4 L501.6,144.3 L500.7,148.2 L497.0,152.0 L494.0,150.0 L495.8,149.0 L487.0,144.3 L473.5,140.0 L469.0,141.5 L467.0,139.5Z" fill="#52a197"/><path d="M540.0,160.5 L547.5,157.5 L567.5,160.5 L578.7,166.0 L576.0,172.5 L570.0,171.0 L555.0,166.0 L545.0,163.7Z" fill="#52a197"/>
<path d="M486.0,134.0 L477.5,130.5 L467.5,128.7 L462.5,130.5 L446.2,145.0 L420.0,167.0 L410.0,175.5 L400.0,173.7 L390.0,175.5 L386.2,178.0 L385.0,181.2 L393.7,185.5 L396.0,188.7 L387.5,193.2 L353.7,218.7 L337.5,232.5 L332.5,238.7 L346.0,245.0 L362.5,247.5 L375.0,242.5 L386.0,228.7 L392.5,220.0 L415.0,202.5 L421.0,198.0 L428.7,196.0 L437.5,200.0 L447.5,205.0 L455.0,207.0 L468.0,208.7 L463.7,217.5 L460.0,223.7 L450.0,236.0 L441.0,243.7 L428.7,248.7 L423.7,255.0 L420.0,265.0 L421.0,268.7 L435.0,272.5 L453.7,275.0 L460.0,271.0 L475.0,255.0 L487.5,240.0 L500.0,226.0 L505.0,220.0 L515.0,217.5 L530.0,216.0 L535.0,208.7 L523.7,206.0 L522.5,202.5 L528.7,195.0 L550.0,171.0 L555.0,166.0 L558.7,160.0 L560.0,155.0 L550.0,151.0 L537.5,150.0 L530.0,151.0 L518.7,159.5 L520.0,165.0 L515.0,167.5 L498.7,182.5 L497.5,187.5 L487.5,192.5 L477.5,190.0 L468.7,187.0 L458.7,186.0 L446.0,183.7 L450.0,176.0 L461.0,165.0 L473.7,153.7 L485.0,141.0Z" fill="none" stroke="#2a2522" stroke-width="2.4" stroke-linejoin="round"/><path d="M466.0,129.5 L477.5,131.0 L485.0,134.0" fill="none" stroke="#2a2522" stroke-width="3.6" stroke-linecap="round" stroke-linejoin="round"/><path d="M531.0,150.8 L540.0,150.5 L550.0,151.5 L559.0,155.0" fill="none" stroke="#2a2522" stroke-width="3.6" stroke-linecap="round" stroke-linejoin="round"/><ellipse cx="446.2" cy="145" rx="3" ry="2.3" fill="#fff" stroke="#2a2522" stroke-width="2.04"/><ellipse cx="420" cy="167" rx="3" ry="2.3" fill="#fff" stroke="#2a2522" stroke-width="2.04"/><ellipse cx="386.2" cy="178" rx="3" ry="2.3" fill="#fff" stroke="#2a2522" stroke-width="2.04"/><ellipse cx="387.5" cy="193.2" rx="3" ry="2.3" fill="#fff" stroke="#2a2522" stroke-width="2.04"/><ellipse cx="353.7" cy="218.7" rx="3" ry="2.3" fill="#fff" stroke="#2a2522" stroke-width="2.04"/><ellipse cx="386" cy="228.7" rx="3" ry="2.3" fill="#fff" stroke="#2a2522" stroke-width="2.04"/><ellipse cx="415" cy="202.5" rx="3" ry="2.3" fill="#fff" stroke="#2a2522" stroke-width="2.04"/><ellipse cx="447.5" cy="205" rx="3" ry="2.3" fill="#fff" stroke="#2a2522" stroke-width="2.04"/><ellipse cx="441" cy="243.7" rx="3" ry="2.3" fill="#fff" stroke="#2a2522" stroke-width="2.04"/><ellipse cx="475" cy="255" rx="3" ry="2.3" fill="#fff" stroke="#2a2522" stroke-width="2.04"/><ellipse cx="500" cy="226" rx="3" ry="2.3" fill="#fff" stroke="#2a2522" stroke-width="2.04"/><ellipse cx="535" cy="208.7" rx="3" ry="2.3" fill="#fff" stroke="#2a2522" stroke-width="2.04"/><ellipse cx="528.7" cy="195" rx="3" ry="2.3" fill="#fff" stroke="#2a2522" stroke-width="2.04"/><ellipse cx="550" cy="171" rx="3" ry="2.3" fill="#fff" stroke="#2a2522" stroke-width="2.04"/><ellipse cx="518.7" cy="159.5" rx="3" ry="2.3" fill="#fff" stroke="#2a2522" stroke-width="2.04"/><ellipse cx="468.7" cy="187" rx="3" ry="2.3" fill="#fff" stroke="#2a2522" stroke-width="2.04"/><ellipse cx="450" cy="176" rx="3" ry="2.3" fill="#fff" stroke="#2a2522" stroke-width="2.04"/><ellipse cx="473.7" cy="153.7" rx="3" ry="2.3" fill="#fff" stroke="#2a2522" stroke-width="2.04"/><ellipse cx="520" cy="165" rx="3" ry="2.3" fill="#fff" stroke="#2a2522" stroke-width="2.04"/><ellipse cx="429.7" cy="198.2" rx="9.8" ry="5.2" fill="#fff" stroke="#2a2522" stroke-width="2.4"/><ellipse cx="471.3" cy="208.4" rx="9.4" ry="6" fill="#fff" stroke="#2a2522" stroke-width="2.4"/><ellipse cx="428.7" cy="248.7" rx="5.4" ry="4" fill="#fff" stroke="#2a2522" stroke-width="2.4"/><ellipse cx="488.4" cy="192.2" rx="8.8" ry="5.1" fill="#fff" stroke="#2a2522" stroke-width="2.4"/><ellipse cx="446" cy="183.2" rx="6.9" ry="4.4" fill="#fff" stroke="#2a2522" stroke-width="2.4"/><ellipse cx="498.7" cy="182.5" rx="4" ry="3.2" fill="#fff" stroke="#2a2522" stroke-width="2.4"/><path d="M335.0,240.3 L346.0,245.0 L361.0,247.6" fill="none" stroke="#2a2522" stroke-width="5.2" stroke-linecap="round" stroke-linejoin="round"/><path d="M423.5,269.0 L435.0,273.0 L452.0,275.2" fill="none" stroke="#2a2522" stroke-width="5.4" stroke-linecap="round" stroke-linejoin="round"/><ellipse cx="346.5" cy="244.9" rx="1.9" ry="1.3" fill="#fff"/><ellipse cx="435.3" cy="272.9" rx="1.9" ry="1.3" fill="#fff"/><ellipse cx="477.4" cy="131.2" rx="1.6" ry="1" fill="#fff"/><ellipse cx="541" cy="151" rx="1.6" ry="1" fill="#fff"/>
<path d="M414.0,316.0 L424.5,316.5 L434.5,321.0 L423.0,336.3 L411.3,337.2 L400.3,333.0Z" fill="none" stroke="#62b0a3" stroke-width="2.8" stroke-linejoin="round"/>
<circle cx="428.4" cy="315.6" r="3.1" fill="#fff" stroke="#62b0a3" stroke-width="2.3"/><circle cx="406.8" cy="339.8" r="3.1" fill="#fff" stroke="#62b0a3" stroke-width="2.3"/>
<ellipse cx="459.8" cy="352.3" rx="23.6" ry="15.3" fill="none" stroke="#15110f" stroke-width="2.6"/>
<ellipse cx="452" cy="355.8" rx="6.1" ry="4.2" fill="#fff" stroke="#15110f" stroke-width="4"/>
<ellipse cx="466.5" cy="347.4" rx="4.2" ry="2.9" fill="none" stroke="#15110f" stroke-width="1.5"/>
<ellipse cx="472.7" cy="299.2" rx="6.4" ry="3.9" fill="#fff" stroke="#15110f" stroke-width="3.4"/>
<ellipse cx="479.8" cy="290.4" rx="6.2" ry="3.5" fill="#fff" stroke="#15110f" stroke-width="3.4"/>
<g transform="rotate(-3 495 314.5)"><ellipse cx="495" cy="314.5" rx="13.4" ry="6.800000000000001" fill="none" stroke="#6a5e58" stroke-width="3.7"/><ellipse cx="495" cy="315.4" rx="12.4" ry="5.6000000000000005" fill="none" stroke="#43393500" stroke-width="1.2"/><ellipse cx="495" cy="315.3" rx="12.3" ry="5.5" fill="none" stroke="#3e3430" stroke-width="1.3"/><ellipse cx="495" cy="314.0" rx="13.8" ry="7.2" fill="none" stroke="#a79c95" stroke-width="0.9"/></g>
<g transform="rotate(-2 510.7 305.2)"><ellipse cx="510.7" cy="305.2" rx="14.0" ry="6.700000000000001" fill="none" stroke="#6a5e58" stroke-width="3.7"/><ellipse cx="510.7" cy="306.09999999999997" rx="13.0" ry="5.500000000000001" fill="none" stroke="#43393500" stroke-width="1.2"/><ellipse cx="510.7" cy="306.0" rx="12.899999999999999" ry="5.4" fill="none" stroke="#3e3430" stroke-width="1.3"/><ellipse cx="510.7" cy="304.7" rx="14.4" ry="7.1000000000000005" fill="none" stroke="#a79c95" stroke-width="0.9"/></g>
<g transform="rotate(-4 473.9 316.8)"><ellipse cx="473.9" cy="316.8" rx="14.3" ry="9.0" fill="none" stroke="#6a5e58" stroke-width="3.7"/><ellipse cx="473.9" cy="317.7" rx="13.3" ry="7.8" fill="none" stroke="#43393500" stroke-width="1.2"/><ellipse cx="473.9" cy="317.6" rx="13.2" ry="7.699999999999999" fill="none" stroke="#3e3430" stroke-width="1.3"/><ellipse cx="473.9" cy="316.3" rx="14.700000000000001" ry="9.4" fill="none" stroke="#a79c95" stroke-width="0.9"/></g>
<g transform="rotate(-3 503.4 330.4)"><ellipse cx="503.4" cy="330.4" rx="15.299999999999999" ry="9.4" fill="none" stroke="#6a5e58" stroke-width="3.7"/><ellipse cx="503.4" cy="331.29999999999995" rx="14.299999999999999" ry="8.2" fill="none" stroke="#43393500" stroke-width="1.2"/><ellipse cx="503.4" cy="331.2" rx="14.2" ry="8.1" fill="none" stroke="#3e3430" stroke-width="1.3"/><ellipse cx="503.4" cy="329.9" rx="15.7" ry="9.8" fill="none" stroke="#a79c95" stroke-width="0.9"/></g>
<ellipse cx="519.3" cy="253" rx="6.3" ry="3.1" fill="none" stroke="#15110f" stroke-width="2.6" transform="rotate(5 519.3 253)"/>
<ellipse cx="536" cy="253" rx="6.5" ry="3.1" fill="none" stroke="#15110f" stroke-width="2.6" transform="rotate(5 536 253)"/>
<rect x="517" y="257.3" width="10" height="9.5" rx="3.5" fill="#121512"/><ellipse cx="522" cy="258.1" rx="4.6" ry="3" fill="#1e2b22"/><ellipse cx="522" cy="257.90000000000003" rx="2.2" ry="1.4" fill="#0a0c0a"/>
<rect x="501.3" y="263.8" width="10" height="9.5" rx="3.5" fill="#121512"/><ellipse cx="506.3" cy="264.6" rx="4.6" ry="3" fill="#1e2b22"/><ellipse cx="506.3" cy="264.40000000000003" rx="2.2" ry="1.4" fill="#0a0c0a"/>
<rect x="522" y="266" width="10" height="9.5" rx="3.5" fill="#121512"/><ellipse cx="527" cy="266.8" rx="4.6" ry="3" fill="#1e2b22"/><ellipse cx="527" cy="266.6" rx="2.2" ry="1.4" fill="#0a0c0a"/>
<rect x="510.29999999999995" y="270" width="10" height="9.5" rx="3.5" fill="#121512"/><ellipse cx="515.3" cy="270.8" rx="4.6" ry="3" fill="#1e2b22"/><ellipse cx="515.3" cy="270.6" rx="2.2" ry="1.4" fill="#0a0c0a"/>
<rect x="498.5" y="272.3" width="10" height="9.5" rx="3.5" fill="#121512"/><ellipse cx="503.5" cy="273.1" rx="4.6" ry="3" fill="#1e2b22"/><ellipse cx="503.5" cy="272.90000000000003" rx="2.2" ry="1.4" fill="#0a0c0a"/>
<rect x="518.2" y="275.6" width="10" height="9.5" rx="3.5" fill="#121512"/><ellipse cx="523.2" cy="276.40000000000003" rx="4.6" ry="3" fill="#1e2b22"/><ellipse cx="523.2" cy="276.20000000000005" rx="2.2" ry="1.4" fill="#0a0c0a"/>
<rect x="504.7" y="281.8" width="10" height="9.5" rx="3.5" fill="#121512"/><ellipse cx="509.7" cy="282.6" rx="4.6" ry="3" fill="#1e2b22"/><ellipse cx="509.7" cy="282.40000000000003" rx="2.2" ry="1.4" fill="#0a0c0a"/>
<rect x="489.5" y="280.6" width="10" height="9.5" rx="3.5" fill="#121512"/><ellipse cx="494.5" cy="281.40000000000003" rx="4.6" ry="3" fill="#1e2b22"/><ellipse cx="494.5" cy="281.20000000000005" rx="2.2" ry="1.4" fill="#0a0c0a"/>
</svg>
</body></html>
